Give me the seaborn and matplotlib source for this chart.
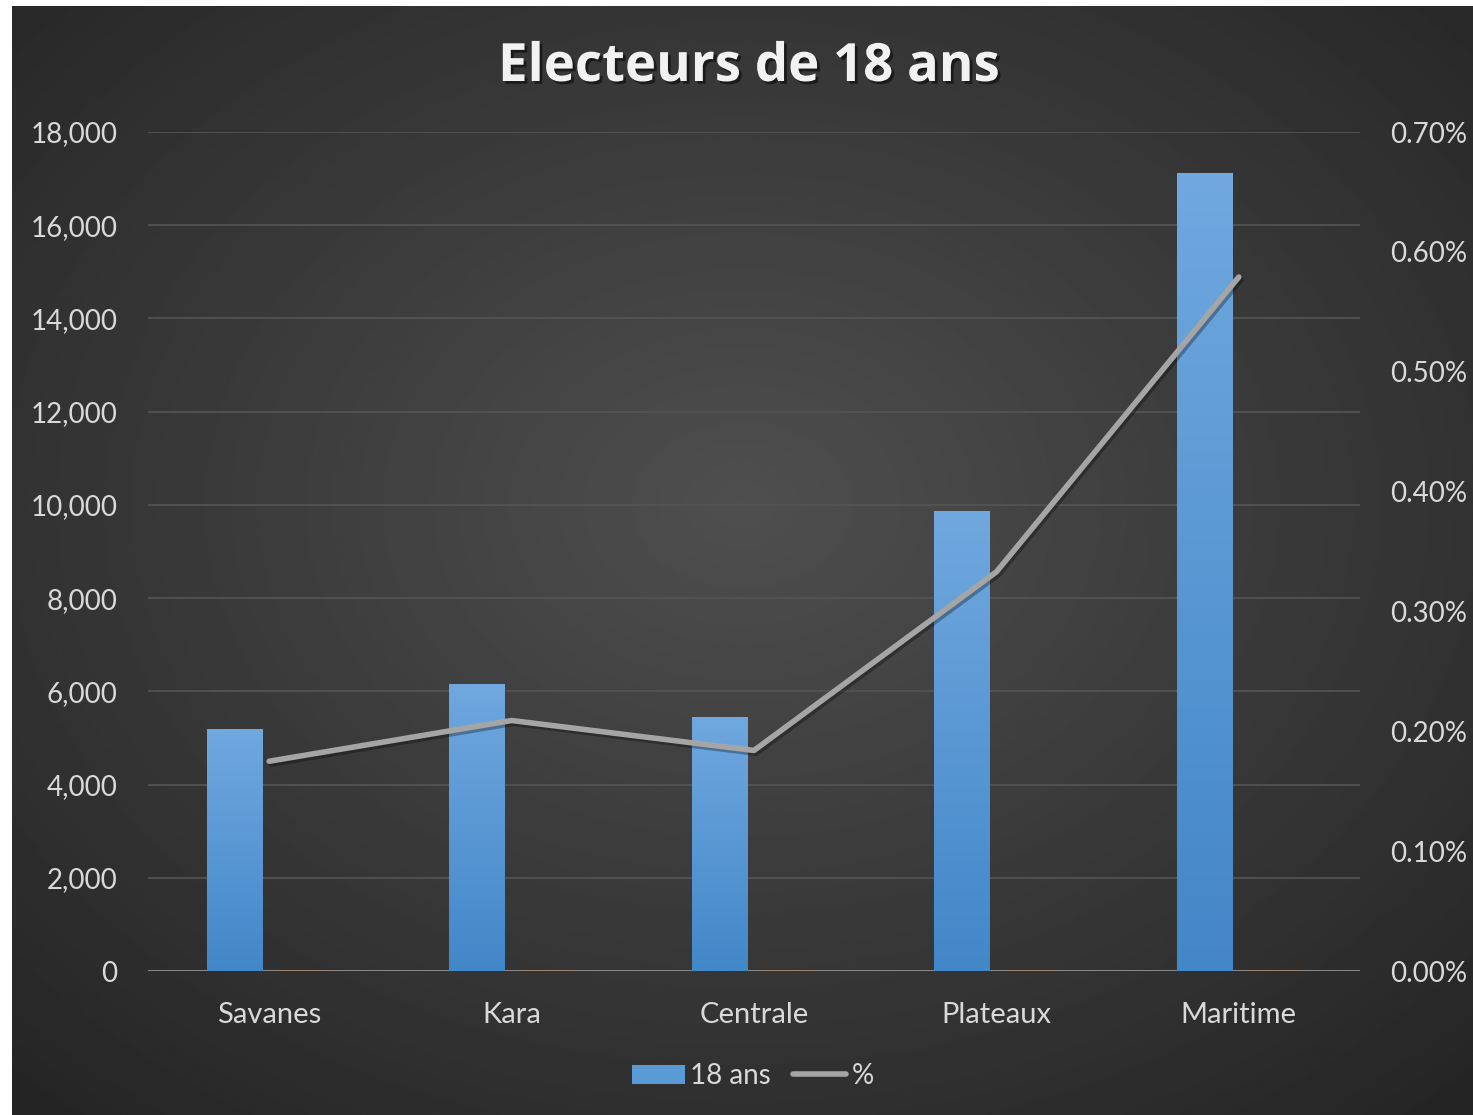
import matplotlib
matplotlib.use("Agg")
import matplotlib.pyplot as plt
import matplotlib.patheffects as pe
import numpy as np
import pandas as pd
import seaborn as sns
from matplotlib.colors import LinearSegmentedColormap
from matplotlib.lines import Line2D
from matplotlib.patches import Patch
from matplotlib.ticker import FuncFormatter, MultipleLocator, PercentFormatter

# values
regions = ["Savanes", "Kara", "Centrale", "Plateaux", "Maritime"]
electeurs_18 = [5190, 6160, 5450, 9870, 17120]
pct_18 = [0.00175, 0.00209, 0.00184, 0.00333, 0.00579]

BLUE = "#5b9bd5"
ORANGE = "#ed7d31"
GREY_LINE = "#a5a5a5"
TXT = "#d9d9d9"

sns.set_theme(style="dark")
plt.rcParams["font.family"] = ["Lato", "DejaVu Sans"]

W, H = 1473, 1115
fig = plt.figure(figsize=(W / 100, H / 100), dpi=100)
fig.patch.set_facecolor("white")

# dark radial background (chart area starts a few px in from left/top)
bg = fig.add_axes([12 / W, 0, 1 - 12 / W, 1 - 6 / H], zorder=-10)
yy, xx = np.mgrid[0:1:400j, 0:1:520j]
r = np.sqrt(((xx - 0.5) / 0.75) ** 2 + ((yy - 0.45) / 0.75) ** 2)
shade = np.clip(0.31 - 0.17 * r, 0.14, 0.31)
bg.imshow(shade, cmap="gray", vmin=0, vmax=1, aspect="auto", extent=(0, 1, 0, 1))
bg.set_axis_off()

ax = fig.add_axes([148 / W, (H - 971) / H, (1360 - 148) / W, (971 - 132) / H])
ax.set_facecolor("none")

df = pd.DataFrame({
    "region": regions * 2,
    "serie": ["18 ans"] * len(regions) + ["%"] * len(regions),
    "valeur": electeurs_18 + pct_18,
})
sns.barplot(data=df, x="region", y="valeur", hue="serie", order=regions,
            palette={"18 ans": BLUE, "%": ORANGE}, width=0.57, gap=0.2,
            legend=False, ax=ax, zorder=3)

# vertical gradient fill on the blue bars
grad = np.linspace(0, 1, 256).reshape(-1, 1)
bar_cmap = LinearSegmentedColormap.from_list("bar", ["#4287c8", "#70a8df"])
for p in ax.patches:
    h = p.get_height()
    if h > 100:
        x0 = p.get_x()
        im = ax.imshow(grad, cmap=bar_cmap, aspect="auto", origin="lower",
                       extent=(x0, x0 + p.get_width(), 0, h), zorder=3)
        im.set_clip_path(p)
        p.set_facecolor("none")
        p.set_edgecolor("none")
    else:
        p.set_edgecolor(ORANGE)
        p.set_linewidth(1.0)
ax.set_xlim(-0.5, len(regions) - 0.5)
ax.set_ylim(0, 18000)

ax.yaxis.set_major_locator(MultipleLocator(2000))
ax.yaxis.set_major_formatter(FuncFormatter(lambda v, _: f"{v:,.0f}"))
ax.grid(axis="y", color="#555555", linewidth=1.2, zorder=0)
ax.set_axisbelow(True)
ax.axhline(0, color="#8f8f8f", linewidth=2, zorder=2)
for s in ax.spines.values():
    s.set_visible(False)
ax.set_xlabel("")
ax.set_ylabel("")
ax.tick_params(axis="y", colors=TXT, labelsize=20, pad=22, length=0)
ax.tick_params(axis="x", colors=TXT, labelsize=21, pad=22, length=0)

ax2 = ax.twinx()
ax2.set_facecolor("none")
sns.lineplot(x=regions, y=pct_18, sort=False, color=GREY_LINE, linewidth=4,
             solid_capstyle="round", solid_joinstyle="round", ax=ax2, zorder=4,
             path_effects=[pe.SimpleLineShadow(offset=(1.5, -2), shadow_color="black", alpha=0.3),
                           pe.Normal()])
ax2.set_xlim(-0.5, len(regions) - 0.5)
ax2.set_ylim(0, 0.007)
ax2.yaxis.set_major_locator(MultipleLocator(0.001))
ax2.yaxis.set_major_formatter(PercentFormatter(xmax=1, decimals=2))
ax2.grid(False)
for s in ax2.spines.values():
    s.set_visible(False)
ax2.set_ylabel("")
ax2.tick_params(axis="y", colors=TXT, labelsize=20, pad=22, length=0)

fig.text(749 / W, 1 - 67 / H, "Electeurs de 18 ans", ha="center", va="center",
         fontsize=38, fontweight="bold", color="#f2f2f2", family=["Open Sans", "DejaVu Sans"],
         path_effects=[pe.withSimplePatchShadow(offset=(2, -2), shadow_rgbFace="black", alpha=0.5)])

handles = [Patch(facecolor=BLUE, edgecolor="none"),
           Line2D([], [], color=GREY_LINE, linewidth=4, solid_capstyle="round")]
fig.legend(handles, ["18 ans", "%"], loc="center", ncol=2,
           bbox_to_anchor=(753 / W, 1 - 1076 / H), frameon=False, fontsize=20,
           labelcolor=TXT, handlelength=1.9, handletextpad=0.2, columnspacing=0.8)

fig.savefig("out.png", dpi=100, facecolor=fig.get_facecolor())
